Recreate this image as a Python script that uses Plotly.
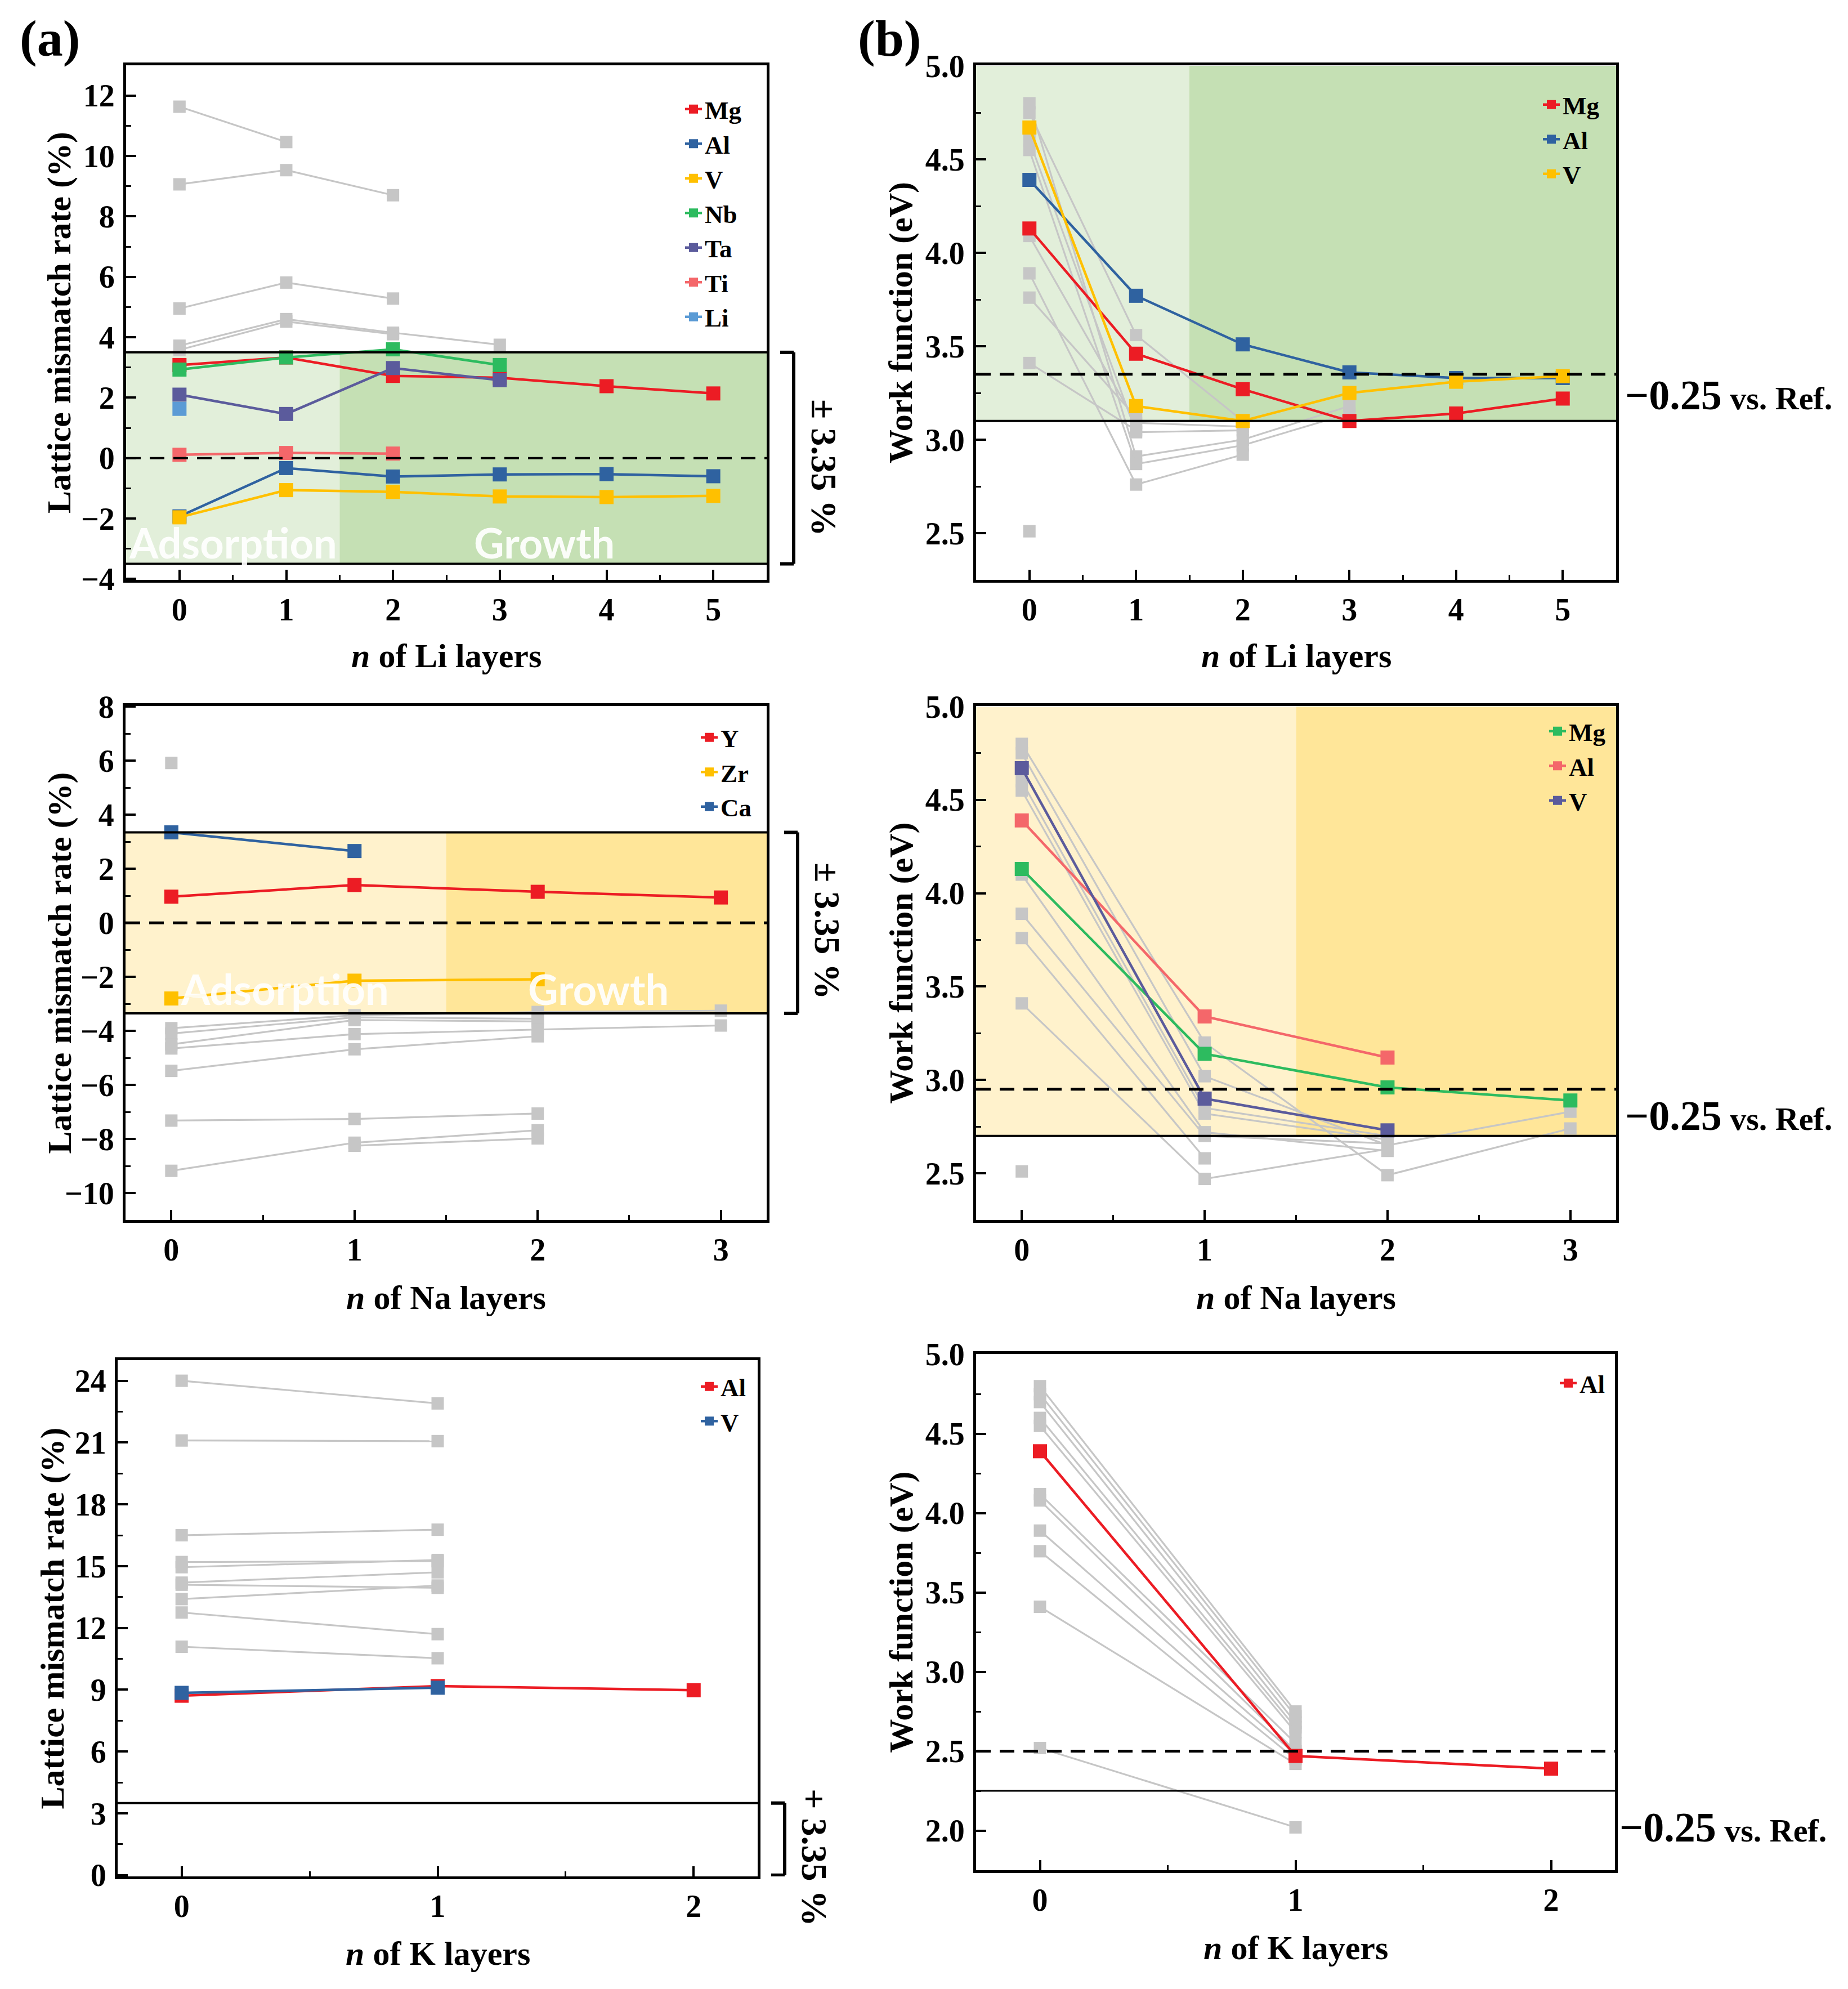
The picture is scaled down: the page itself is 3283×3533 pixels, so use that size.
import plotly.graph_objects as go

W, H = 3283, 3533

# ---------------- data ----------------
li_layers = [0, 1, 2, 3, 4, 5]
na_layers = [0, 1, 2, 3]
k_layers = [0, 1, 2]

# (a) Li : lattice mismatch rate (%)
li_mis_mg = [3.08, 3.33, 2.72, 2.66, 2.38, 2.14]
li_mis_al = [-1.93, -0.33, -0.61, -0.54, -0.53, -0.60]
li_mis_v = [-1.96, -1.06, -1.12, -1.27, -1.29, -1.25]
li_mis_nb = [2.93, 3.33, 3.60, 3.08]
li_mis_ta = [2.10, 1.46, 2.98, 2.58]
li_mis_ti = [0.11, 0.17, 0.15]
li_mis_li = [1.63]
li_mis_gray = [[11.63, 10.46], [9.06, 9.53, 8.70], [4.95, 5.81, 5.28],
               [3.72, 4.60, 4.15, 3.75], [3.58, 4.52, 4.10]]

# (b) Li : work function (eV)
li_wf_mg = [4.13, 3.46, 3.27, 3.10, 3.14, 3.22]
li_wf_al = [4.39, 3.77, 3.51, 3.36, 3.33, 3.33]
li_wf_v = [4.67, 3.18, 3.10, 3.25, 3.31, 3.34]
li_wf_gray = [[4.80, 2.91, 3.00, 3.18], [4.75, 3.56, 3.10], [4.60, 3.04, 3.05],
              [4.55, 2.87, 2.97, 3.14], [4.09, 3.09, 3.07], [3.89, 2.76, 2.92],
              [3.76, 3.12], [3.41, 3.05], [2.51]]

# (a) Na : lattice mismatch rate (%)
na_mis_y = [0.97, 1.40, 1.15, 0.94]
na_mis_zr = [-2.80, -2.14, -2.09]
na_mis_ca = [3.35, 2.66]
na_mis_gray = [[5.92], [-3.90, -3.42, -3.30, -3.25], [-4.10, -3.50, -3.55],
               [-4.50, -3.60, -3.65], [-4.65, -4.12, -3.95, -3.80],
               [-5.48, -4.68, -4.20], [-7.32, -7.26, -7.06],
               [-9.18, -8.14, -7.68], [None, -8.25, -7.98]]

# (b) Na : work function (eV)
na_wf_mg = [4.13, 3.14, 2.96, 2.89]
na_wf_al = [4.39, 3.34, 3.12]
na_wf_v = [4.67, 2.90, 2.73]
na_wf_gray = [[4.80, 3.20, 2.49, 2.74], [4.75, 3.02, 2.65, 2.83], [4.60, 2.85, 2.70],
              [4.55, 2.82, 2.68], [4.10, 2.72, 2.62], [3.89, 2.70, 2.66],
              [3.76, 2.58], [3.41, 2.47, 2.63], [2.51]]

# (a) K : lattice mismatch rate (%)
k_mis_al = [8.71, 9.18, 8.98]
k_mis_v = [8.85, 9.10]
k_mis_gray = [[24.0, 22.9], [21.1, 21.07], [16.5, 16.77], [15.2, 15.24],
              [14.95, 15.3], [14.2, 14.7], [14.1, 13.95], [13.4, 14.06],
              [12.75, 11.7], [11.09, 10.53]]

# (b) K : work function (eV)
k_wf_al = [4.39, 2.47, 2.39]
k_wf_gray = [[4.80, 2.75], [4.75, 2.72], [4.70, 2.68], [4.60, 2.65], [4.55, 2.62],
             [4.12, 2.55], [4.08, 2.50], [3.89, 2.48], [3.76, 2.45], [3.41, 2.42],
             [2.52, 2.02]]

# thresholds
li_mis_lim = 3.5
na_mis_lim = 3.35
k_mis_lim = 3.5
li_wf_ref, li_wf_lim = 3.35, 3.10
na_wf_ref, na_wf_lim = 2.95, 2.70
k_wf_ref, k_wf_lim = 2.50, 2.25

# ---------------- style ----------------
RED = "#ec1c24"
BLUE = "#2f62a0"
YELLOW = "#ffc000"
GREEN = "#2dbb5f"
PURPLE = "#5b5b9c"
SALMON = "#f4676a"
LBLUE = "#5b9bd5"
GRAY = "#c6c6c6"
SERIF = "Liberation Serif"
DASH = "26px,16px"

fig = go.Figure()


def sid(k):
    return "" if k == 1 else str(k)


def add_panel(k, xs, grays, series):
    s = sid(k)
    for g in grays:
        fig.add_trace(go.Scatter(
            x=xs[:len(g)], y=g, mode="lines+markers", showlegend=False,
            line=dict(color=GRAY, width=3.2),
            marker=dict(symbol="square", size=22, color=GRAY),
            xaxis="x" + s, yaxis="y" + s, hoverinfo="skip"))
    for name, vals, col in series:
        fig.add_trace(go.Scatter(
            x=xs[:len(vals)], y=vals, mode="lines+markers", name=name,
            line=dict(color=col, width=4.5),
            marker=dict(symbol="square", size=25, color=col),
            xaxis="x" + s, yaxis="y" + s, legend="legend" + s))


add_panel(1, li_layers, li_mis_gray,
          [("Mg", li_mis_mg, RED), ("Al", li_mis_al, BLUE), ("V", li_mis_v, YELLOW),
           ("Nb", li_mis_nb, GREEN), ("Ta", li_mis_ta, PURPLE), ("Ti", li_mis_ti, SALMON),
           ("Li", li_mis_li, LBLUE)])
add_panel(2, li_layers, li_wf_gray,
          [("Mg", li_wf_mg, RED), ("Al", li_wf_al, BLUE), ("V", li_wf_v, YELLOW)])
add_panel(3, na_layers, na_mis_gray,
          [("Y", na_mis_y, RED), ("Zr", na_mis_zr, YELLOW), ("Ca", na_mis_ca, BLUE)])
add_panel(4, na_layers, na_wf_gray,
          [("Mg", na_wf_mg, GREEN), ("Al", na_wf_al, SALMON), ("V", na_wf_v, PURPLE)])
add_panel(5, k_layers, k_mis_gray, [("Al", k_mis_al, RED), ("V", k_mis_v, BLUE)])
add_panel(6, k_layers, k_wf_gray, [("Al", k_wf_al, RED)])


def px_x(p):
    return p / W


def px_y(p):
    return 1 - p / H


# pixel boxes of each plot area: (left, right, top, bottom)
boxes = {
    1: (224, 1362, 116, 1030), 2: (1734, 2871, 116, 1030),
    3: (223, 1362, 1254, 2167), 4: (1734, 2871, 1254, 2167),
    5: (209, 1346, 2416, 3333), 6: (1734, 2869, 2405, 3322),
}
xranges = {1: [-0.5, 5.5], 2: [-0.5, 5.5], 3: [-0.25, 3.25], 4: [-0.25, 3.25],
           5: [-0.25, 2.25], 6: [-0.25, 2.25]}
yranges = {1: [-4.03, 13], 2: [2.25, 5.003], 3: [-11, 8.03], 4: [2.25, 5.003],
           5: [-0.06, 25], 6: [1.75, 5.003]}
ydticks = {1: 2, 2: 0.5, 3: 2, 4: 0.5, 5: 3, 6: 0.5}
yformat = {1: "d", 2: ".1f", 3: "d", 4: ".1f", 5: "d", 6: ".1f"}

axis_common = dict(showline=True, linecolor="black", linewidth=5, mirror=True,
                   ticks="inside", ticklen=18, tickwidth=4, tickcolor="black",
                   showgrid=False, zeroline=False, automargin=False,
                   tickfont=dict(family=SERIF, size=56, color="black", weight="bold"))

for k, (l, r, t, b) in boxes.items():
    s = sid(k)
    fig.layout["xaxis" + s] = dict(
        domain=[px_x(l), px_x(r)], range=xranges[k], anchor="y" + s,
        dtick=1, tick0=0, ticklabelstandoff=0,
        minor=dict(ticks="inside", ticklen=9, tickwidth=3, dtick=0.5, tick0=0, tickcolor="black"),
        **axis_common)
    fig.layout["yaxis" + s] = dict(
        domain=[px_y(b), px_y(t)], range=yranges[k], anchor="x" + s,
        dtick=ydticks[k], tick0=0, tickformat=yformat[k], ticklabelstandoff=4,
        minor=dict(ticks="inside", ticklen=9, tickwidth=3, dtick=ydticks[k] / 2,
                   tick0=0, tickcolor="black"),
        **axis_common)

shapes = []


def band(k, x0, x1, y0, y1, color):
    s = sid(k)
    shapes.append(dict(type="rect", xref="x" + s, yref="y" + s, x0=x0, x1=x1,
                       y0=y0, y1=y1, fillcolor=color, line=dict(width=0), layer="below"))


def hline(k, y, dash, width=4):
    s = sid(k)
    shapes.append(dict(type="line", xref="x" + s + " domain", yref="y" + s, x0=0, x1=1,
                       y0=y, y1=y, line=dict(color="black", width=width, dash=dash)))


# (a) Li
band(1, -0.5, 1.5, -li_mis_lim, li_mis_lim, "#e2efda")
band(1, 1.5, 5.5, -li_mis_lim, li_mis_lim, "#c5e0b4")
hline(1, li_mis_lim, "solid")
hline(1, -li_mis_lim, "solid")
hline(1, 0, DASH, 4)
# (b) Li
band(2, -0.5, 1.5, li_wf_lim, 5.0, "#e2efda")
band(2, 1.5, 5.5, li_wf_lim, 5.0, "#c5e0b4")
hline(2, li_wf_ref, DASH, 5)
hline(2, li_wf_lim, "solid")
# (a) Na
band(3, -0.25, 1.5, -na_mis_lim, na_mis_lim, "#fff2cc")
band(3, 1.5, 3.25, -na_mis_lim, na_mis_lim, "#ffe699")
hline(3, na_mis_lim, "solid")
hline(3, -na_mis_lim, "solid")
hline(3, 0, DASH, 5)
# (b) Na
band(4, -0.25, 1.5, na_wf_lim, 5.0, "#fff2cc")
band(4, 1.5, 3.25, na_wf_lim, 5.0, "#ffe699")
hline(4, na_wf_ref, DASH, 5)
hline(4, na_wf_lim, "solid")
# (a) K
hline(5, k_mis_lim, "solid")
# (b) K
hline(6, k_wf_ref, DASH, 5)
hline(6, k_wf_lim, "solid", 3)


def bracket(k, xpx, y0, y1):
    s = sid(k)
    xp = px_x(xpx)
    xl = px_x(xpx - 24)
    ln = dict(color="black", width=6)
    shapes.append(dict(type="line", xref="paper", yref="y" + s, x0=xp, x1=xp, y0=y0, y1=y1, line=ln))
    shapes.append(dict(type="line", xref="paper", yref="y" + s, x0=xl, x1=xp, y0=y0, y1=y0, line=ln))
    shapes.append(dict(type="line", xref="paper", yref="y" + s, x0=xl, x1=xp, y0=y1, y1=y1, line=ln))


bracket(1, 1410, -li_mis_lim, li_mis_lim)
bracket(3, 1417, -na_mis_lim, na_mis_lim)
bracket(5, 1394, 0, k_mis_lim)

annotations = []


def note(text, x, y, size, xref="paper", yref="paper", angle=0, xanchor="center",
         family=SERIF, color="black"):
    annotations.append(dict(text=text, x=x, y=y, xref=xref, yref=yref, showarrow=False,
                            textangle=angle, xanchor=xanchor, yanchor="middle",
                            font=dict(family=family, size=size, color=color, weight="bold")))


note("(a)", px_x(88), px_y(68), 92)
note("(b)", px_x(1580), px_y(68), 92)

for k, lab, ypx in [(1, "Li", 1165), (2, "Li", 1165), (3, "Na", 2305), (4, "Na", 2305),
                    (5, "K", 3470), (6, "K", 3460)]:
    l, r, t, b = boxes[k]
    note("<i>n</i> of " + lab + " layers", px_x((l + r) / 2), px_y(ypx), 60)

for k, xpx in [(1, 105), (3, 105), (5, 92)]:
    l, r, t, b = boxes[k]
    note("Lattice mismatch rate (%)", px_x(xpx), px_y((t + b) / 2), 60, angle=-90)
for k in [2, 4, 6]:
    l, r, t, b = boxes[k]
    note("Work function (eV)", px_x(1600), px_y((t + b) / 2), 60, angle=-90)

ref_text = "<span style='font-size:74px'>\u22120.25</span> vs. Ref."
note(ref_text, px_x(2885), px_y(702), 58, xanchor="left")
note(ref_text, px_x(2885), px_y(1982), 58, xanchor="left")
note(ref_text, px_x(2875), px_y(3246), 58, xanchor="left")

note("\u00b1 3.35 %", px_x(1463), px_y(830), 64, angle=90)
note("\u00b1 3.35 %", px_x(1470), px_y(1653), 64, angle=90)
note("+ 3.35 %", px_x(1447), px_y(3299), 64, angle=90)

for k, xa, xg, yv in [(1, 0.5, 3.42, -2.8), (3, 0.62, 2.33, -2.45)]:
    s = sid(k)
    note("Adsorption", xa, yv, 74, xref="x" + s, yref="y" + s, family="Lato",
         color="rgba(255,255,255,0.92)")
    note("Growth", xg, yv, 74, xref="x" + s, yref="y" + s, family="Lato",
         color="rgba(255,255,255,0.92)")

legend_pos = {1: (1212, 158), 2: (2736, 150), 3: (1240, 1274), 4: (2747, 1263),
              5: (1240, 2427), 6: (2766, 2421)}
for k, (lx, ty) in legend_pos.items():
    fig.layout["legend" + sid(k)] = dict(
        x=px_x(lx), y=px_y(ty), xanchor="left", yanchor="top",
        bgcolor="rgba(0,0,0,0)", borderwidth=0, tracegroupgap=0,
        font=dict(family=SERIF, size=45, color="black", weight="bold"))

fig.update_layout(width=W, height=H, margin=dict(l=0, r=0, t=0, b=0, pad=0),
                  paper_bgcolor="white", plot_bgcolor="white",
                  shapes=shapes, annotations=annotations)

fig.write_html("out.html", config={"displayModeBar": False},
               post_script="document.body.style.margin = '0';")
